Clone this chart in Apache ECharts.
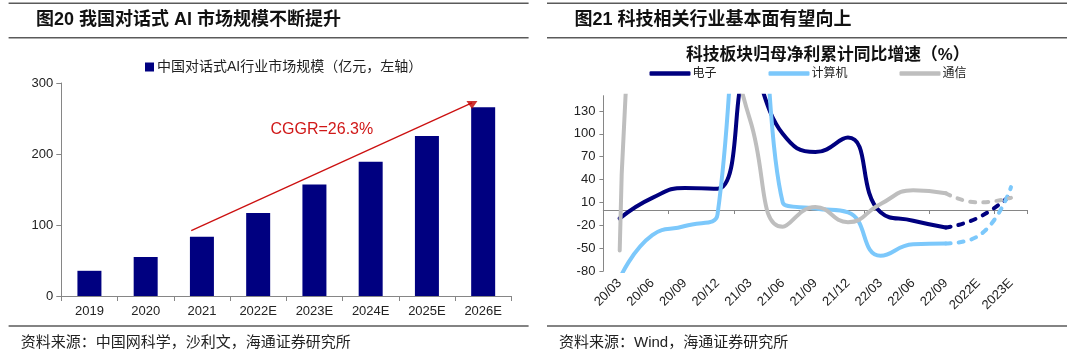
<!DOCTYPE html>
<html><head><meta charset="utf-8">
<script src="https://cdn.jsdelivr.net/npm/echarts@6/dist/echarts.min.js"></script>
<style>html,body{margin:0;padding:0;background:#fff}#c{width:1080px;height:356px}</style>
</head><body><div id="c"></div>
<script>
// ---- Left chart data ----
const barCategories = ['2019','2020','2021','2022E','2023E','2024E','2025E','2026E'];
const barValues = [35.5, 55, 83.5, 117, 157, 189, 225.5, 266];
const barSeriesName = '中国对话式AI行业市场规模（亿元，左轴）';
const barAxisTicks = [0, 100, 200, 300];
// CAGR annotation arrow, in (category position, value) units
const arrowLine = [[2.31, 92], [7.30, 272]];
const arrowHead = [[7.30, 269]];
const cagrLabel = 'CGGR=26.3%';

// ---- Right chart data ----
const lineCategories = ['20/03','20/06','20/09','20/12','21/03','21/06','21/09','21/12','22/03','22/06','22/09','2022E','2023E'];
const lineYTicks = [-80, -50, -20, 10, 40, 70, 100, 130];
const electronics = [-11, 16, 29, 28, 185, 100, 76, 95, -3, -14, -23, -10, 20];
const computer    = [-90, -33, -21, -6, 900, 10, 2, -3, -60, -45, -44, -34, 30];
const telecom     = [-53, 350, 300, 250, 118, -22, 4, -16, 8, 26, 22, 10, 16];
const lastActualIndex = 10; // 22/09; later points are forecasts (dashed)

const FONT = "'Liberation Sans','Noto Sans CJK SC',sans-serif";
const AXIS = '#868686';
const TXT = '#222';

function solidPart(arr){ return arr.map((v,i)=> i<=lastActualIndex ? v : null); }
function dashPart(arr){ return arr.map((v,i)=> i>=lastActualIndex ? v : null); }

const lineSpecs = [
  {name:'电子', data: electronics, color:'#00007F'},
  {name:'计算机', data: computer, color:'#7CC8FB'},
  {name:'通信', data: telecom, color:'#BEBEBE'}
];

const chart = echarts.init(document.getElementById('c'), null, {renderer:'canvas'});

const lineSeries = [];
lineSpecs.forEach(s=>{
  lineSeries.push({
    type:'line', name:s.name, xAxisIndex:2, yAxisIndex:1, data: solidPart(s.data),
    smooth:0.5, showSymbol:false, symbol:'none', connectNulls:false,
    lineStyle:{color:s.color, width:4, cap:'round', join:'round'}, itemStyle:{color:s.color},
    silent:true, animation:false
  });
});
lineSpecs.forEach(s=>{
  lineSeries.push({
    type:'line', name:s.name, xAxisIndex:2, yAxisIndex:1, data: dashPart(s.data),
    smooth:0.5, showSymbol:false, symbol:'none', connectNulls:false,
    lineStyle:{color:s.color, width:4, type:[5,8], cap:'round', join:'round'}, itemStyle:{color:s.color},
    silent:true, animation:false
  });
});

function hline(x1,x2,y){ return {type:'line', shape:{x1:x1,y1:y,x2:x2,y2:y}, style:{stroke:'#5a5a5a', lineWidth:1.5}, silent:true}; }
function txt(x,y,text,size,weight,color){ return {type:'text', x:x, y:y, style:{text:text, font:(weight||'normal')+' '+size+'px '+FONT, fill:color||TXT, align:'left', verticalAlign:'middle'}, silent:true}; }

const option = {
  animation:false,
  textStyle:{fontFamily:FONT},
  grid:[
    {left:61.3, top:83, width:450, height:213, containLabel:false},
    {left:603.4, top:95.7, width:423.9, height:175.3, containLabel:false}
  ],
  legend:[
    {data:[barSeriesName], left:145, top:60, padding:0, itemWidth:9, itemHeight:9, icon:'rect', itemGap:10,
     textStyle:{fontSize:14, color:TXT, fontFamily:FONT, padding:[0,0,0,-2]}, selectedMode:false},
    {data:['电子','计算机','通信'], left:649.5, top:67.5, padding:0, itemWidth:41, itemHeight:4.5, icon:'roundRect', itemGap:52,
     textStyle:{fontSize:12, color:TXT, fontFamily:FONT, padding:[0,0,0,-3]}, selectedMode:false}
  ],
  xAxis:[
    {type:'category', gridIndex:0, data:barCategories,
     axisLine:{lineStyle:{color:AXIS, width:1}}, axisTick:{show:true, length:5, lineStyle:{color:AXIS}},
     axisLabel:{fontSize:13, color:TXT, margin:9, fontFamily:FONT}, splitLine:{show:false}},
    {type:'value', gridIndex:0, min:0, max:barCategories.length, show:false},
    {type:'category', gridIndex:1, data:lineCategories, position:'bottom',
     axisLine:{show:false, onZero:false}, axisTick:{show:false},
     axisLabel:{fontSize:13, color:TXT, rotate:45, margin:10, fontFamily:FONT, interval:0}, splitLine:{show:false}},
    {type:'category', gridIndex:1, data:lineCategories, position:'bottom',
     axisLine:{show:true, onZero:true, lineStyle:{color:AXIS, width:1.2}},
     axisTick:{show:true, length:4, lineStyle:{color:AXIS}},
     axisLabel:{show:false}, splitLine:{show:false}}
  ],
  yAxis:[
    {type:'value', gridIndex:0, min:barAxisTicks[0], max:barAxisTicks[barAxisTicks.length-1], interval:barAxisTicks[1]-barAxisTicks[0],
     axisLine:{show:true, lineStyle:{color:AXIS}}, axisTick:{show:true, length:5, lineStyle:{color:AXIS}},
     axisLabel:{fontSize:13, color:TXT, margin:8, fontFamily:FONT}, splitLine:{show:false}},
    {type:'value', gridIndex:1, min:lineYTicks[0], max:150, interval:lineYTicks[1]-lineYTicks[0],
     axisLine:{show:true, onZero:false, lineStyle:{color:AXIS}}, axisTick:{show:true, length:4, lineStyle:{color:AXIS}},
     axisLabel:{fontSize:13, color:TXT, margin:8, showMaxLabel:false, fontFamily:FONT}, splitLine:{show:false}}
  ],
  series:[
    {type:'bar', name:barSeriesName, xAxisIndex:0, yAxisIndex:0, data:barValues, barWidth:24,
     itemStyle:{color:'#000080'}, silent:true},
    {type:'line', name:'arrow', xAxisIndex:1, yAxisIndex:0, data:arrowLine, showSymbol:false, symbol:'none',
     lineStyle:{color:'#CC1010', width:1.3}, silent:true, z:5},
    {type:'scatter', name:'arrowHead', xAxisIndex:1, yAxisIndex:0, data:arrowHead, symbol:'triangle',
     symbolRotate:180, symbolSize:[11,8], itemStyle:{color:'#C00000'}, silent:true, z:6}
  ].concat(lineSeries),
  graphic:[
    hline(8.6, 528.6, 3.3), hline(8.6, 528.6, 37.7), hline(8.6, 528.6, 326),
    hline(547, 1067, 3.3), hline(547, 1067, 37.7), hline(547, 1067, 326),
    txt(36, 20.5, '图20 我国对话式 AI 市场规模不断提升', 18, 'bold', '#111'),
    txt(574.4, 20.5, '图21 科技相关行业基本面有望向上', 18, 'bold', '#111'),
    txt(686, 55, '科技板块归母净利累计同比增速（%）', 16.8, 'bold', '#111'),
    txt(270.5, 129.5, cagrLabel, 16, 'normal', '#D01818'),
    txt(20.7, 343.3, '资料来源：中国网科学，沙利文，海通证券研究所', 15, 'normal', TXT),
    txt(559, 343.3, '资料来源：Wind，海通证券研究所', 15, 'normal', TXT)
  ]
};
chart.setOption(option);
</script>
</body></html>
